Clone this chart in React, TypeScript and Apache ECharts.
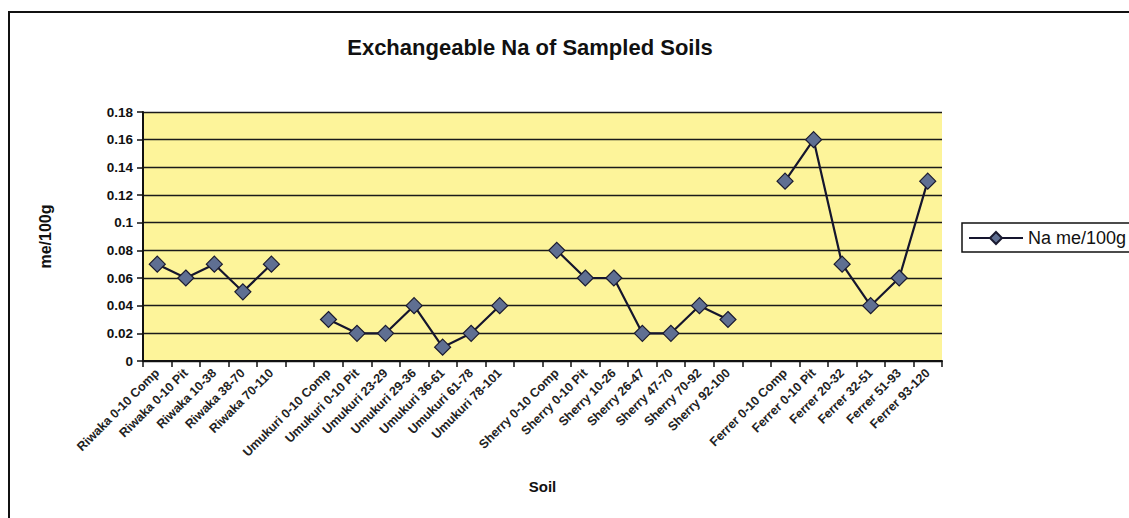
import React, { useEffect, useRef } from "react";
import * as echarts from "echarts";

const categories = [
  "Riwaka 0-10 Comp", "Riwaka 0-10 Pit", "Riwaka 10-38", "Riwaka 38-70", "Riwaka 70-110",
  " ",
  "Umukuri 0-10 Comp", "Umukuri 0-10 Pit", "Umukuri 23-29", "Umukuri 29-36", "Umukuri 36-61", "Umukuri 61-78", "Umukuri 78-101",
  "  ",
  "Sherry 0-10 Comp", "Sherry 0-10 Pit", "Sherry 10-26", "Sherry 26-47", "Sherry 47-70", "Sherry 70-92", "Sherry 92-100",
  "   ",
  "Ferrer 0-10 Comp", "Ferrer 0-10 Pit", "Ferrer 20-32", "Ferrer 32-51", "Ferrer 51-93", "Ferrer 93-120",
];

const naValues: (number | null)[] = [
  0.07, 0.06, 0.07, 0.05, 0.07,
  null,
  0.03, 0.02, 0.02, 0.04, 0.01, 0.02, 0.04,
  null,
  0.08, 0.06, 0.06, 0.02, 0.02, 0.04, 0.03,
  null,
  0.13, 0.16, 0.07, 0.04, 0.06, 0.13,
];

const FONT = "'Liberation Sans', Arial, sans-serif";

export default function App() {
  const ref = useRef<HTMLDivElement>(null);
  useEffect(() => {
    document.body.style.margin = "0";
    if (!ref.current) return;
    const chart = echarts.init(ref.current, null, { renderer: "svg" });
    chart.setOption({
      animation: false,
      backgroundColor: "#ffffff",
      title: {
        text: "Exchangeable Na of Sampled Soils",
        left: 525,
        textAlign: "center",
        top: 31,
        textStyle: { fontFamily: FONT, fontSize: 22, fontWeight: "bold", color: "#111" },
      },
      graphic: [
        {
          type: "rect",
          shape: { x: 9, y: 12, width: 1140, height: 530 },
          style: { fill: "none", stroke: "#111", lineWidth: 2 },
          silent: true,
        },
      ],
      legend: {
        left: 962,
        top: 223,
        orient: "vertical",
        borderColor: "#111",
        borderWidth: 1.5,
        borderRadius: 0,
        padding: [6, 10, 5, 6],
        itemWidth: 54,
        itemHeight: 15,
        itemGap: 0,
        textStyle: { fontFamily: FONT, fontSize: 18, color: "#111" },
        data: ["Na me/100g"],
      },
      grid: { left: 143, right: 187, top: 112, bottom: 157, show: true, backgroundColor: "#fdf49a", borderWidth: 0 },
      xAxis: {
        type: "category",
        data: categories,
        boundaryGap: true,
        name: "Soil",
        nameLocation: "middle",
        nameGap: 118,
        nameTextStyle: { fontFamily: FONT, fontSize: 15, fontWeight: "bold", color: "#111" },
        axisLine: { lineStyle: { color: "#111", width: 2 } },
        axisTick: { show: true, length: 6, lineStyle: { color: "#111", width: 1.5 }, alignWithLabel: false },
        axisLabel: {
          interval: 0,
          rotate: 45,
          fontFamily: FONT,
          fontSize: 12.5,
          fontWeight: "bold",
          color: "#222",
          margin: 10,
        },
        splitLine: { show: false },
      },
      yAxis: {
        type: "value",
        min: 0,
        max: 0.18,
        interval: 0.02,
        name: "me/100g",
        nameLocation: "middle",
        nameGap: 90,
        nameTextStyle: { fontFamily: FONT, fontSize: 16, fontWeight: "bold", color: "#111" },
        axisLine: { show: true, lineStyle: { color: "#111", width: 2 } },
        axisTick: { show: true, length: 6, lineStyle: { color: "#111", width: 1.5 } },
        axisLabel: { fontFamily: FONT, fontSize: 13.5, fontWeight: "bold", color: "#111", margin: 10 },
        splitLine: { show: true, lineStyle: { color: "#1a1a1a", width: 1.3 } },
      },
      series: [
        {
          name: "Na me/100g",
          type: "line",
          data: naValues,
          connectNulls: false,
          symbol: "diamond",
          symbolSize: 16,
          lineStyle: { color: "#15152e", width: 2.2 },
          itemStyle: { color: "#5f6f92", borderColor: "#1a1a30", borderWidth: 1.2 },
        },
      ],
    });
    return () => chart.dispose();
  }, []);
  return <div ref={ref} style={{ width: 1129, height: 518 }} />;
}
